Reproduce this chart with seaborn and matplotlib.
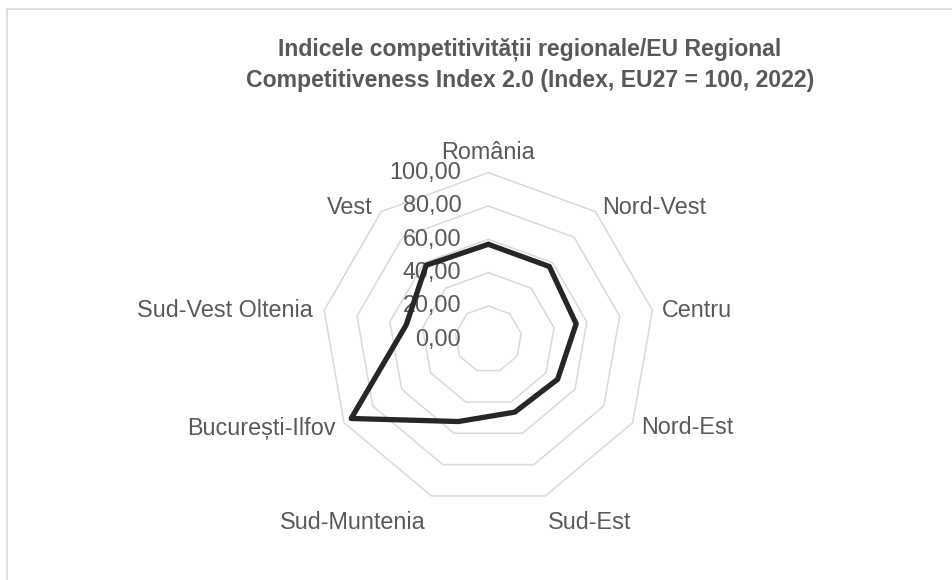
import numpy as np
import pandas as pd
import matplotlib
matplotlib.use('Agg')
import matplotlib.pyplot as plt
from matplotlib.lines import Line2D
from matplotlib.transforms import offset_copy
import seaborn as sns

# values
categories = ['România', 'Nord-Vest', 'Centru', 'Nord-Est', 'Sud-Est',
              'Sud-Muntenia', 'București-Ilfov', 'Sud-Vest Oltenia', 'Vest']
values = [57.0, 57.0, 53.5, 48.0, 46.5, 52.5, 95.0, 50.0, 58.0]
ring_levels = [20, 40, 60, 80, 100]
tick_values = [0, 20, 40, 60, 80, 100]
tick_labels = ['0,00', '20,00', '40,00', '60,00', '80,00', '100,00']
title = ('Indicele competitivității regionale/EU Regional\n'
         'Competitiveness Index 2.0 (Index, EU27 = 100, 2022)')

# label placement around the outer ring (ha, dx px, dy px)
label_layout = [('center', 0, 9), ('left', 7, 4), ('left', 9, 0),
                ('left', 8, -5), ('left', 3, -27), ('right', -6, -27),
                ('right', -8, -6), ('right', -11, 0), ('right', -9, 4)]

sns.set_theme(style='white')
plt.rcParams['font.family'] = ['Liberation Sans', 'DejaVu Sans']

text_col = '#595959'
grid_col = '#d9d9d9'

n = len(categories)
theta = np.linspace(0, 2 * np.pi, n, endpoint=False)

df = pd.DataFrame({'theta': np.append(theta, 2 * np.pi),
                   'value': values + values[:1]})

fig = plt.figure(figsize=(9.53, 5.8), dpi=100)
fig.patch.set_facecolor('white')

# chart area border (top and left edges visible in the crop)
fig.add_artist(Line2D([7 / 953, 1], [1 - 9 / 580, 1 - 9 / 580],
                      transform=fig.transFigure, color=grid_col, lw=1.2))
fig.add_artist(Line2D([7 / 953, 7 / 953], [0, 1 - 9 / 580],
                      transform=fig.transFigure, color=grid_col, lw=1.2))

ax = fig.add_axes([0.3375, 0.1276, 0.3498, 0.5748], projection='polar')
ax.set_theta_zero_location('N')
ax.set_theta_direction(-1)
ax.set_ylim(0, 100)
ax.grid(False)
ax.set_xticks([])
ax.set_yticks([])
ax.spines['polar'].set_visible(False)
ax.set_facecolor('none')

# polygon gridlines
ring_theta = np.append(theta, 2 * np.pi)
for lvl in ring_levels:
    ax.plot(ring_theta, [lvl] * (n + 1), color=grid_col, lw=1.1, zorder=1)

sns.lineplot(data=df, x='theta', y='value', sort=False, estimator=None,
             color='#262626', linewidth=3.8, ax=ax, zorder=3)
for ln in ax.lines:
    ln.set_clip_on(False)
ax.set_xlabel('')
ax.set_ylabel('')

# radial value labels
tick_tr = offset_copy(ax.transData, fig=fig, x=-27, y=0, units='dots')
for v, lab in zip(tick_values, tick_labels):
    ax.text(0, v, lab, transform=tick_tr, ha='right', va='center',
            fontsize=16.8, color=text_col, zorder=2)

# category labels
for ang, cat, (ha, dx, dy) in zip(theta, categories, label_layout):
    tr = offset_copy(ax.transData, fig=fig, x=dx, y=dy, units='dots')
    va = 'bottom' if ha == 'center' else 'center'
    ax.text(ang, 100, cat, transform=tr, ha=ha, va=va,
            fontsize=16.8, color=text_col)

fig.text(0.556, 1 - 65 / 580, title, ha='center', va='center',
         fontsize=16.6, fontweight='bold', color=text_col, linespacing=1.45)

plt.savefig('out.png', dpi=100)
